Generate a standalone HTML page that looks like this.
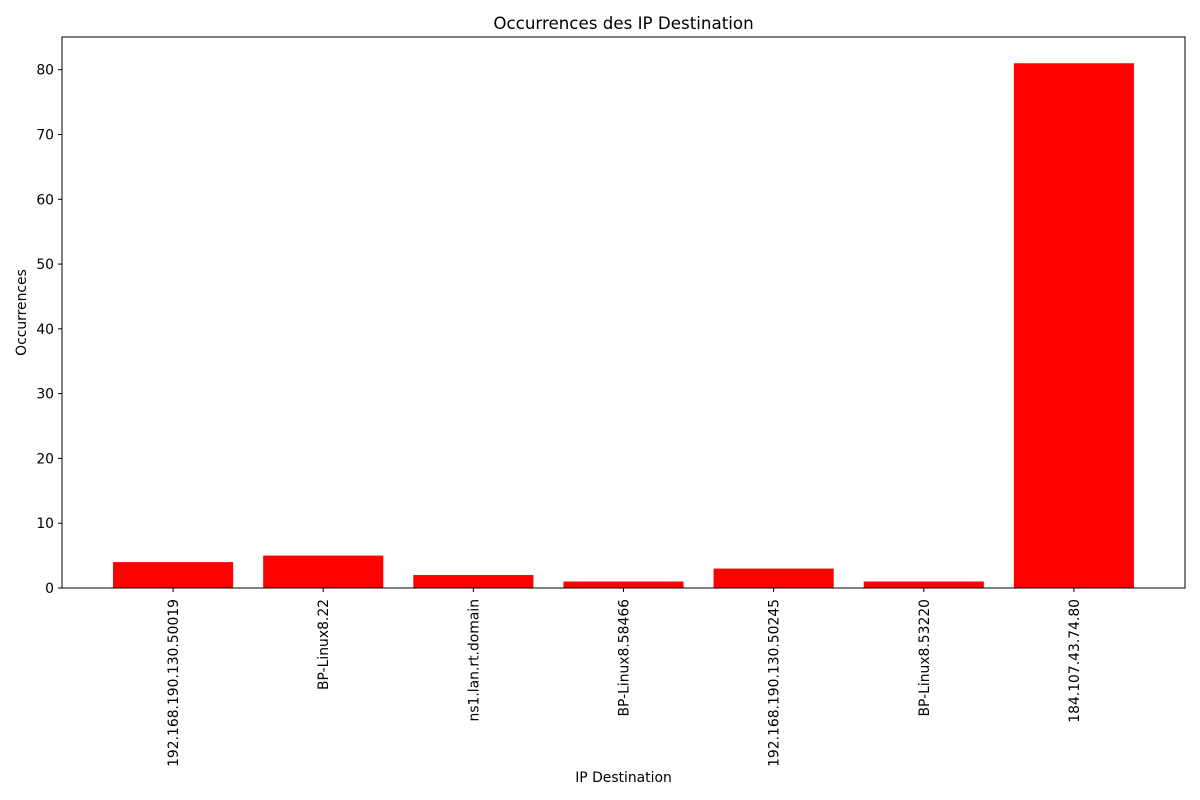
<!DOCTYPE html>
<html><head><meta charset="utf-8"><style>
html,body{margin:0;padding:0;background:#fff;}
svg{display:block;font-family:"DejaVu Sans","Liberation Sans",sans-serif;}
</style></head><body>
<svg id="chart" width="1200" height="800"></svg>
<script>
const categories = ["192.168.190.130.50019","BP-Linux8.22","ns1.lan.rt.domain","BP-Linux8.58466","192.168.190.130.50245","BP-Linux8.53220","184.107.43.74.80"];
const occurrences = [4,5,2,1,3,1,81];
const yTicks = [0,10,20,30,40,50,60,70,80];

const NS = "http://www.w3.org/2000/svg";
const svg = document.getElementById('chart');
const L=62, R=1185, T=37, B=588;
const xMin=-0.74, xMax=categories.length-1+0.74;
const yMax=Math.max(...occurrences)*1.05;
const xs = v => L + (v - xMin)/(xMax - xMin)*(R-L);
const ys = v => B - v/yMax*(B-T);
function mk(tag, attrs, text){
  const e=document.createElementNS(NS,tag);
  for(const k in attrs) e.setAttribute(k,attrs[k]);
  if(text!==undefined) e.textContent=text;
  svg.appendChild(e); return e;
}
occurrences.forEach((v,i)=>{
  const x0=xs(i-0.4), x1=xs(i+0.4);
  const b=mk('rect',{x:x0,y:ys(v),width:x1-x0,height:B-ys(v),fill:'#ff0000'});
  
  
});
const f=mk('rect',{x:L,y:T,width:R-L,height:B-T,fill:'none',stroke:'#000','stroke-width':1});


yTicks.forEach(t=>{
  const y=ys(t);
  mk('line',{x1:L-4,x2:L,y1:y,y2:y,stroke:'#000'});
  const tx=mk('text',{x:L-8,y:y+5,'text-anchor':'end','font-size':13.9},String(t));
  
  
});
categories.forEach((c,i)=>{
  const x=xs(i);
  mk('line',{x1:x,x2:x,y1:B,y2:B+4,stroke:'#000'});
  const tx=mk('text',{x:0,y:0,'text-anchor':'end','font-size':13.9,transform:`translate(${x+5},${B+11}) rotate(-90)`},c);
  
  
});
const t1=mk('text',{x:(L+R)/2,y:29,'text-anchor':'middle','font-size':16.7},'Occurrences des IP Destination');


const t2=mk('text',{x:(L+R)/2,y:782,'text-anchor':'middle','font-size':13.9},'IP Destination');


const t3=mk('text',{x:0,y:0,'text-anchor':'middle','font-size':13.9,transform:`translate(26,${(T+B)/2}) rotate(-90)`},'Occurrences');


</script>
</body></html>
